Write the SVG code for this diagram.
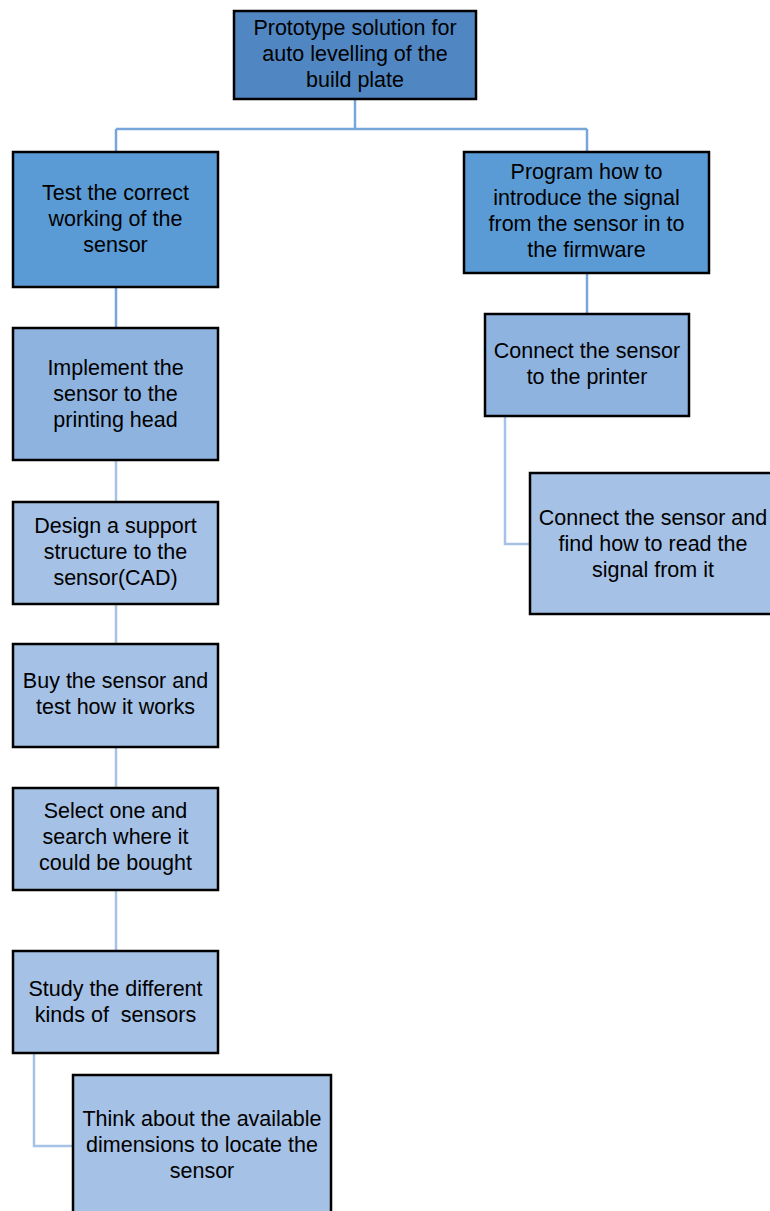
<svg xmlns="http://www.w3.org/2000/svg" width="770" height="1211" viewBox="0 0 770 1211">
<style>
.box{stroke:#000;stroke-width:2.5}
.l0{fill:#5087C2}
.l1{fill:#5B9BD5}
.l2{fill:#8FB3DF}
.l3{fill:#A5C1E5}
text{font-family:"Liberation Sans",Arial,sans-serif;font-size:21.5px;fill:#000;text-anchor:middle}
.c1{fill:none;stroke:#78A6DB;stroke-width:2.5}
.c2{fill:none;stroke:#A6C2E7;stroke-width:2.5}
</style>
<rect width="770" height="1211" fill="#fff"/>
<g id="connectors">
<path class="c1" d="M355 99 V129 M116 129 H587 M116 129 V152 M587 129 V152"/>
<path class="c1" d="M116 287 V328 M587 273 V314"/>
<path class="c2" d="M116 460 V502 M116 604 V644 M116 747 V788 M116 890 V951"/>
<path class="c2" d="M505 416 V544 H530"/>
<path class="c2" d="M34 1053 V1146 H73"/>
</g>
<g id="n0"><rect class="box l0" x="234" y="11" width="242" height="88"/>
<text x="355" y="35">Prototype solution for</text><text x="355" y="61">auto levelling of the</text><text x="355" y="87">build plate</text></g>
<g id="n1"><rect class="box l1" x="13" y="152" width="205" height="135"/>
<text x="115.5" y="200">Test the correct</text><text x="115.5" y="226">working of the</text><text x="115.5" y="252">sensor</text></g>
<g id="n2"><rect class="box l1" x="464" y="152" width="245" height="121"/>
<text x="586.5" y="179">Program how to</text><text x="586.5" y="205">introduce the signal</text><text x="586.5" y="231">from the sensor in to</text><text x="586.5" y="257">the firmware</text></g>
<g id="n3"><rect class="box l2" x="485" y="314" width="204" height="102"/>
<text x="587" y="358">Connect the sensor</text><text x="587" y="384">to the printer</text></g>
<g id="n4"><rect class="box l3" x="530" y="473" width="245" height="141"/>
<text x="653" y="525">Connect the sensor and</text><text x="653" y="551">find how to read the</text><text x="653" y="577">signal from it</text></g>
<g id="n5"><rect class="box l2" x="13" y="328" width="205" height="132"/>
<text x="115.5" y="375">Implement the</text><text x="115.5" y="401">sensor to the</text><text x="115.5" y="427">printing head</text></g>
<g id="n6"><rect class="box l3" x="13" y="502" width="205" height="102"/>
<text x="115.5" y="533">Design a support</text><text x="115.5" y="559">structure to the</text><text x="115.5" y="585">sensor(CAD)</text></g>
<g id="n7"><rect class="box l3" x="13" y="644" width="205" height="103"/>
<text x="115.5" y="688">Buy the sensor and</text><text x="115.5" y="714">test how it works</text></g>
<g id="n8"><rect class="box l3" x="13" y="788" width="205" height="102"/>
<text x="115.5" y="818">Select one and</text><text x="115.5" y="844">search where it</text><text x="115.5" y="870">could be bought</text></g>
<g id="n9"><rect class="box l3" x="13" y="951" width="205" height="102"/>
<text x="115.5" y="996">Study the different</text><text x="115.5" y="1022" xml:space="preserve">kinds of  sensors</text></g>
<g id="n10"><rect class="box l3" x="73" y="1075" width="258" height="145"/>
<text x="202" y="1126">Think about the available</text><text x="202" y="1152">dimensions to locate the</text><text x="202" y="1178">sensor</text></g>
</svg>
